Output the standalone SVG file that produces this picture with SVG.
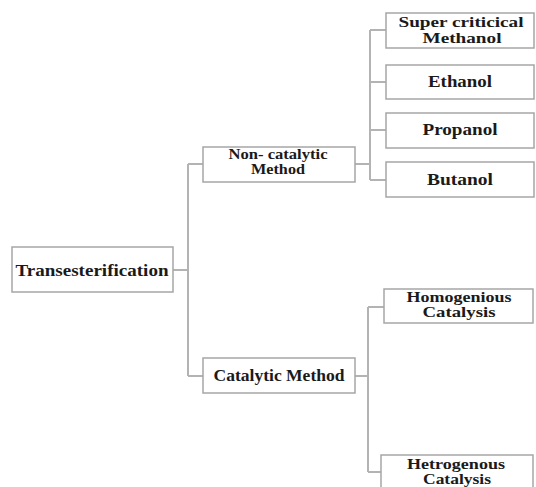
<svg xmlns="http://www.w3.org/2000/svg" width="536" height="487" viewBox="0 0 536 487">
<style>
.box{fill:#fff;stroke:#a6a6a6;stroke-width:1.5}
.ln{fill:none;stroke:#b3b3b3;stroke-width:2}
text{font-family:"Liberation Serif","Times New Roman",serif;font-weight:bold;fill:#1a1a1a;text-anchor:middle}
.t17{font-size:17px}
.t16{font-size:16px}
.t14{font-size:14px}
</style>
<rect width="536" height="487" fill="#fff"/>
<g id="connectors">
<path class="ln" d="M173,270 H188 M188,164 V376 M188,164 H203 M188,376 H203"/>
<path class="ln" d="M355,164 H370 M370,30 V180 M370,30 H386 M370,82 H386 M370,130 H386 M370,180 H386"/>
<path class="ln" d="M355,376 H368 M368,307 V472 M368,307 H384 M368,472 H381"/>
</g>
<g id="transesterification">
<rect class="box" x="12" y="247" width="161" height="45"/>
<text class="t17" x="92" y="276" textLength="153" lengthAdjust="spacingAndGlyphs">Transesterification</text>
</g>
<g id="non-catalytic">
<rect class="box" x="203" y="147" width="152" height="35"/>
<text class="t14" x="278" y="159" textLength="99" lengthAdjust="spacingAndGlyphs">Non- catalytic</text>
<text class="t14" x="278" y="174" textLength="54" lengthAdjust="spacingAndGlyphs">Method</text>
</g>
<g id="catalytic">
<rect class="box" x="203" y="358" width="152" height="35"/>
<text class="t16" x="279" y="381" textLength="131" lengthAdjust="spacingAndGlyphs">Catalytic Method</text>
</g>
<g id="supercritical">
<rect class="box" x="386" y="13" width="148" height="35"/>
<text class="t14" x="461" y="27" textLength="125" lengthAdjust="spacingAndGlyphs">Super criticical</text>
<text class="t14" x="462" y="43" textLength="79" lengthAdjust="spacingAndGlyphs">Methanol</text>
</g>
<g id="ethanol">
<rect class="box" x="386" y="65" width="148" height="34"/>
<text class="t16" x="460" y="87" textLength="64" lengthAdjust="spacingAndGlyphs">Ethanol</text>
</g>
<g id="propanol">
<rect class="box" x="386" y="113" width="148" height="35"/>
<text class="t16" x="460" y="135" textLength="75" lengthAdjust="spacingAndGlyphs">Propanol</text>
</g>
<g id="butanol">
<rect class="box" x="386" y="162" width="148" height="35"/>
<text class="t16" x="460" y="185" textLength="66" lengthAdjust="spacingAndGlyphs">Butanol</text>
</g>
<g id="homogenious">
<rect class="box" x="384" y="289" width="149" height="34"/>
<text class="t14" x="459" y="302" textLength="105" lengthAdjust="spacingAndGlyphs">Homogenious</text>
<text class="t14" x="459" y="317" textLength="73" lengthAdjust="spacingAndGlyphs">Catalysis</text>
</g>
<g id="hetrogenous">
<rect class="box" x="381" y="455" width="152" height="40"/>
<text class="t14" x="456" y="469" textLength="98" lengthAdjust="spacingAndGlyphs">Hetrogenous</text>
<text class="t14" x="457" y="484" textLength="68" lengthAdjust="spacingAndGlyphs">Catalysis</text>
</g>
</svg>
